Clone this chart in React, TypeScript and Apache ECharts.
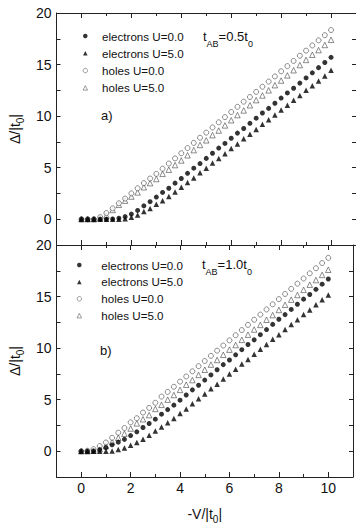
import React, { useEffect, useRef } from "react";
import * as echarts from "echarts";

const xs = [0, 0.25, 0.5, 0.75, 1, 1.25, 1.5, 1.75, 2, 2.25, 2.5, 2.75, 3, 3.25, 3.5, 3.75, 4, 4.25, 4.5, 4.75, 5, 5.25, 5.5, 5.75, 6, 6.25, 6.5, 6.75, 7, 7.25, 7.5, 7.75, 8, 8.25, 8.5, 8.75, 9, 9.25, 9.5, 9.75, 10];

// panel a) t_AB = 0.5 t0
const aElectronsU0 = [0, 0, 0, 0, 0, 0.03, 0.1, 0.25, 0.5, 0.85, 1.3, 1.7, 2.15, 2.6, 3.0, 3.5, 3.95, 4.45, 4.95, 5.4, 5.9, 6.4, 6.9, 7.35, 7.85, 8.35, 8.8, 9.3, 9.8, 10.3, 10.75, 11.25, 11.75, 12.25, 12.7, 13.2, 13.7, 14.2, 14.7, 15.2, 15.7];
const aElectronsU5 = [0, 0, 0, 0, 0, 0, 0, 0.05, 0.2, 0.4, 0.75, 1.05, 1.45, 1.8, 2.2, 2.65, 3.1, 3.55, 4.0, 4.5, 4.95, 5.45, 5.9, 6.35, 6.85, 7.3, 7.8, 8.25, 8.7, 9.2, 9.65, 10.1, 10.6, 11.05, 11.55, 12.0, 12.5, 12.95, 13.4, 13.9, 14.45];
const aHolesU0 = [0, 0, 0, 0.2, 0.6, 1.05, 1.55, 2.0, 2.5, 3.0, 3.5, 3.95, 4.4, 4.9, 5.4, 5.9, 6.4, 6.9, 7.4, 7.9, 8.4, 8.9, 9.4, 9.9, 10.4, 10.9, 11.4, 11.85, 12.35, 12.85, 13.35, 13.85, 14.35, 14.85, 15.35, 15.85, 16.35, 16.85, 17.35, 17.85, 18.35];
const aHolesU5 = [0, 0, 0, 0.1, 0.35, 0.9, 1.4, 1.8, 2.2, 2.6, 3.1, 3.5, 3.9, 4.4, 4.8, 5.25, 5.7, 6.2, 6.7, 7.2, 7.65, 8.15, 8.6, 9.1, 9.6, 10.1, 10.55, 11.05, 11.55, 12.0, 12.5, 13.0, 13.45, 13.95, 14.45, 14.95, 15.45, 15.95, 16.4, 16.9, 17.4];

// panel b) t_AB = 1.0 t0
const bElectronsU0 = [0, 0, 0.02, 0.16, 0.35, 0.62, 0.88, 1.15, 1.52, 1.88, 2.3, 2.69, 3.11, 3.59, 4.04, 4.47, 4.95, 5.45, 5.95, 6.4, 6.9, 7.4, 7.9, 8.4, 8.85, 9.35, 9.85, 10.35, 10.8, 11.3, 11.8, 12.3, 12.8, 13.25, 13.75, 14.25, 14.75, 15.2, 15.7, 16.2, 16.7];
const bElectronsU5 = [0, 0, 0, 0, 0, 0.02, 0.16, 0.32, 0.58, 0.84, 1.16, 1.55, 1.97, 2.36, 2.75, 3.17, 3.65, 4.1, 4.6, 5.1, 5.55, 6.05, 6.5, 7.0, 7.5, 7.95, 8.45, 8.9, 9.4, 9.9, 10.35, 10.85, 11.3, 11.8, 12.3, 12.75, 13.25, 13.7, 14.2, 14.7, 15.15];
const bHolesU0 = [0, 0.05, 0.2, 0.5, 0.85, 1.3, 1.8, 2.25, 2.8, 3.2, 3.75, 4.2, 4.7, 5.3, 5.75, 6.25, 6.75, 7.25, 7.75, 8.25, 8.75, 9.25, 9.75, 10.25, 10.75, 11.25, 11.75, 12.25, 12.75, 13.25, 13.75, 14.25, 14.75, 15.25, 15.75, 16.25, 16.75, 17.25, 17.75, 18.25, 18.75];
const bHolesU5 = [0, 0, 0.05, 0.2, 0.5, 0.9, 1.3, 1.7, 2.2, 2.7, 3.1, 3.5, 4.1, 4.5, 5.0, 5.45, 5.95, 6.45, 6.9, 7.4, 7.9, 8.4, 8.85, 9.35, 9.85, 10.3, 10.8, 11.3, 11.8, 12.25, 12.75, 13.2, 13.7, 14.2, 14.7, 15.15, 15.65, 16.15, 16.6, 17.1, 17.6];

const seriesNames = ["electrons U=0.0", "electrons U=5.0", "holes U=0.0", "holes U=5.0"];
const xTickLabels = ["0", "2", "4", "6", "8", "10"];
const yTickLabels = ["0", "5", "10", "15", "20"];
const panelLabels = ["a)", "b)"];

const FONT = "'Liberation Sans', Arial, Helvetica, sans-serif";
const INK = "#111";
const AXIS = "#222";

const pair = (ys: number[]) => xs.map((x, i) => [x, ys[i]]);

const symStyles = [
  { symbol: "circle", symbolSize: 5, itemStyle: { color: "#000" } },
  { symbol: "triangle", symbolSize: 5.5, itemStyle: { color: "#000" } },
  { symbol: "circle", symbolSize: 5, itemStyle: { color: "#fff", borderColor: "#333", borderWidth: 0.7 } },
  { symbol: "triangle", symbolSize: 5.5, itemStyle: { color: "#fff", borderColor: "#333", borderWidth: 0.7 } },
];

export default function App() {
  const ref = useRef<HTMLDivElement>(null);
  useEffect(() => {
    if (!ref.current) return;
    const chart = echarts.init(ref.current, null, { renderer: "svg" });

    const grids = [
      { left: 56.5, top: 13, width: 303, height: 232 },
      { left: 56.5, top: 245, width: 303, height: 232 },
    ];

    const tickX = (gridIndex: number, position: string) => ({
      type: "value",
      gridIndex,
      position,
      min: -1,
      max: 11,
      interval: 2,
      axisLine: { show: true, onZero: false, lineStyle: { color: AXIS, width: 1 } },
      axisTick: { show: true, inside: true, length: 3, lineStyle: { color: AXIS } },
      minorTick: { show: true, splitNumber: 2, length: 5, lineStyle: { color: AXIS } },
      axisLabel: { show: false },
      splitLine: { show: false },
      minorSplitLine: { show: false },
    });

    const yNameRich = {
      m: { fontSize: 14, lineHeight: 20, color: INK, fontFamily: FONT },
      s: { fontSize: 10, lineHeight: 10, verticalAlign: "bottom", color: INK, fontFamily: FONT },
    };

    const axisY = (gridIndex: number, position: string) => ({
      type: "value",
      gridIndex,
      position,
      min: -2.5,
      max: 20,
      interval: 2.5,
      axisLine: { show: true, onZero: false, lineStyle: { color: AXIS, width: 1 } },
      axisTick: { show: true, inside: true, length: 4, lineStyle: { color: AXIS } },
      axisLabel:
        position === "left"
          ? {
              show: true,
              margin: 5,
              fontSize: 14,
              color: INK,
              fontFamily: FONT,
              formatter: (v: number) => (yTickLabels.includes(String(v)) ? String(v) : ""),
            }
          : { show: false },
      splitLine: { show: false },
      name: position === "left" ? "{m|Δ/|t}{s|0}{m||}" : "",
      nameLocation: "middle",
      nameRotate: 90,
      nameGap: 30,
      nameTextStyle: { rich: yNameRich },
    });

    const xAxes = [
      tickX(0, "bottom"),
      tickX(0, "top"),
      tickX(1, "bottom"),
      tickX(1, "top"),
      {
        type: "value",
        gridIndex: 1,
        position: "bottom",
        min: -1,
        max: 11,
        interval: 1,
        axisLine: { show: false, onZero: false },
        axisTick: { show: false },
        splitLine: { show: false },
        axisLabel: {
          show: true,
          margin: 4,
          fontSize: 14,
          color: INK,
          fontFamily: FONT,
          formatter: (v: number) => (xTickLabels.includes(String(v)) ? String(v) : ""),
        },
        name: "{m|-V/|t}{s|0}{m||}",
        nameLocation: "middle",
        nameGap: 27,
        nameTextStyle: { rich: yNameRich },
      },
    ];

    const yAxes = [axisY(0, "left"), axisY(0, "right"), axisY(1, "left"), axisY(1, "right")];

    const panelData = [
      [aElectronsU0, aElectronsU5, aHolesU0, aHolesU5],
      [bElectronsU0, bElectronsU5, bHolesU0, bHolesU5],
    ];

    const series: any[] = [];
    panelData.forEach((arrs, p) => {
      arrs.forEach((ys, k) => {
        series.push({
          type: "scatter",
          name: seriesNames[k],
          xAxisIndex: p === 0 ? 0 : 2,
          yAxisIndex: p === 0 ? 0 : 2,
          data: pair(ys),
          ...symStyles[k],
          z: 10 - k,
        });
      });
    });

    const legendBase = {
      orient: "vertical",
      padding: 0,
      itemWidth: 4.5,
      itemHeight: 4.5,
      selectedMode: false,
      itemStyle: { borderWidth: 0.6 },
      data: seriesNames,
    };

    const subRich = {
      m: { fontSize: 13, lineHeight: 24, fill: INK, fontFamily: FONT },
      s: { fontSize: 9, lineHeight: 10, verticalAlign: "bottom", fill: INK, fontFamily: FONT },
    };

    chart.setOption({
      animation: false,
      textStyle: { fontFamily: FONT },
      grid: grids,
      xAxis: xAxes,
      yAxis: yAxes,
      legend: [
        {
          ...legendBase,
          left: 82.75,
          top: 29,
          itemGap: 3.3,
          textStyle: { fontSize: 11.6, lineHeight: 14, color: INK, fontFamily: FONT, padding: [0, 0, 0, 9.5] },
        },
        {
          ...legendBase,
          left: 76.75,
          top: 258,
          itemGap: 2.9,
          textStyle: { fontSize: 11.6, lineHeight: 14, color: INK, fontFamily: FONT, padding: [0, 0, 0, 14.8] },
        },
      ],
      graphic: [
        {
          type: "text",
          x: 203,
          y: 36,
          style: { text: "{m|t}{s|AB}{m|=0.5t}{s|0}", rich: subRich, verticalAlign: "middle", align: "left" },
        },
        {
          type: "text",
          x: 202,
          y: 264,
          style: { text: "{m|t}{s|AB}{m|=1.0t}{s|0}", rich: subRich, verticalAlign: "middle", align: "left" },
        },
        {
          type: "text",
          x: 101,
          y: 115,
          style: { text: panelLabels[0], fontSize: 13, fill: INK, fontFamily: FONT, verticalAlign: "middle" },
        },
        {
          type: "text",
          x: 100,
          y: 350,
          style: { text: panelLabels[1], fontSize: 13, fill: INK, fontFamily: FONT, verticalAlign: "middle" },
        },
      ],
      series,
    });
    return () => chart.dispose();
  }, []);
  return (
    <div
      ref={ref}
      style={{ position: "fixed", left: 0, top: 0, width: 356, height: 527, background: "#fff" }}
    />
  );
}
